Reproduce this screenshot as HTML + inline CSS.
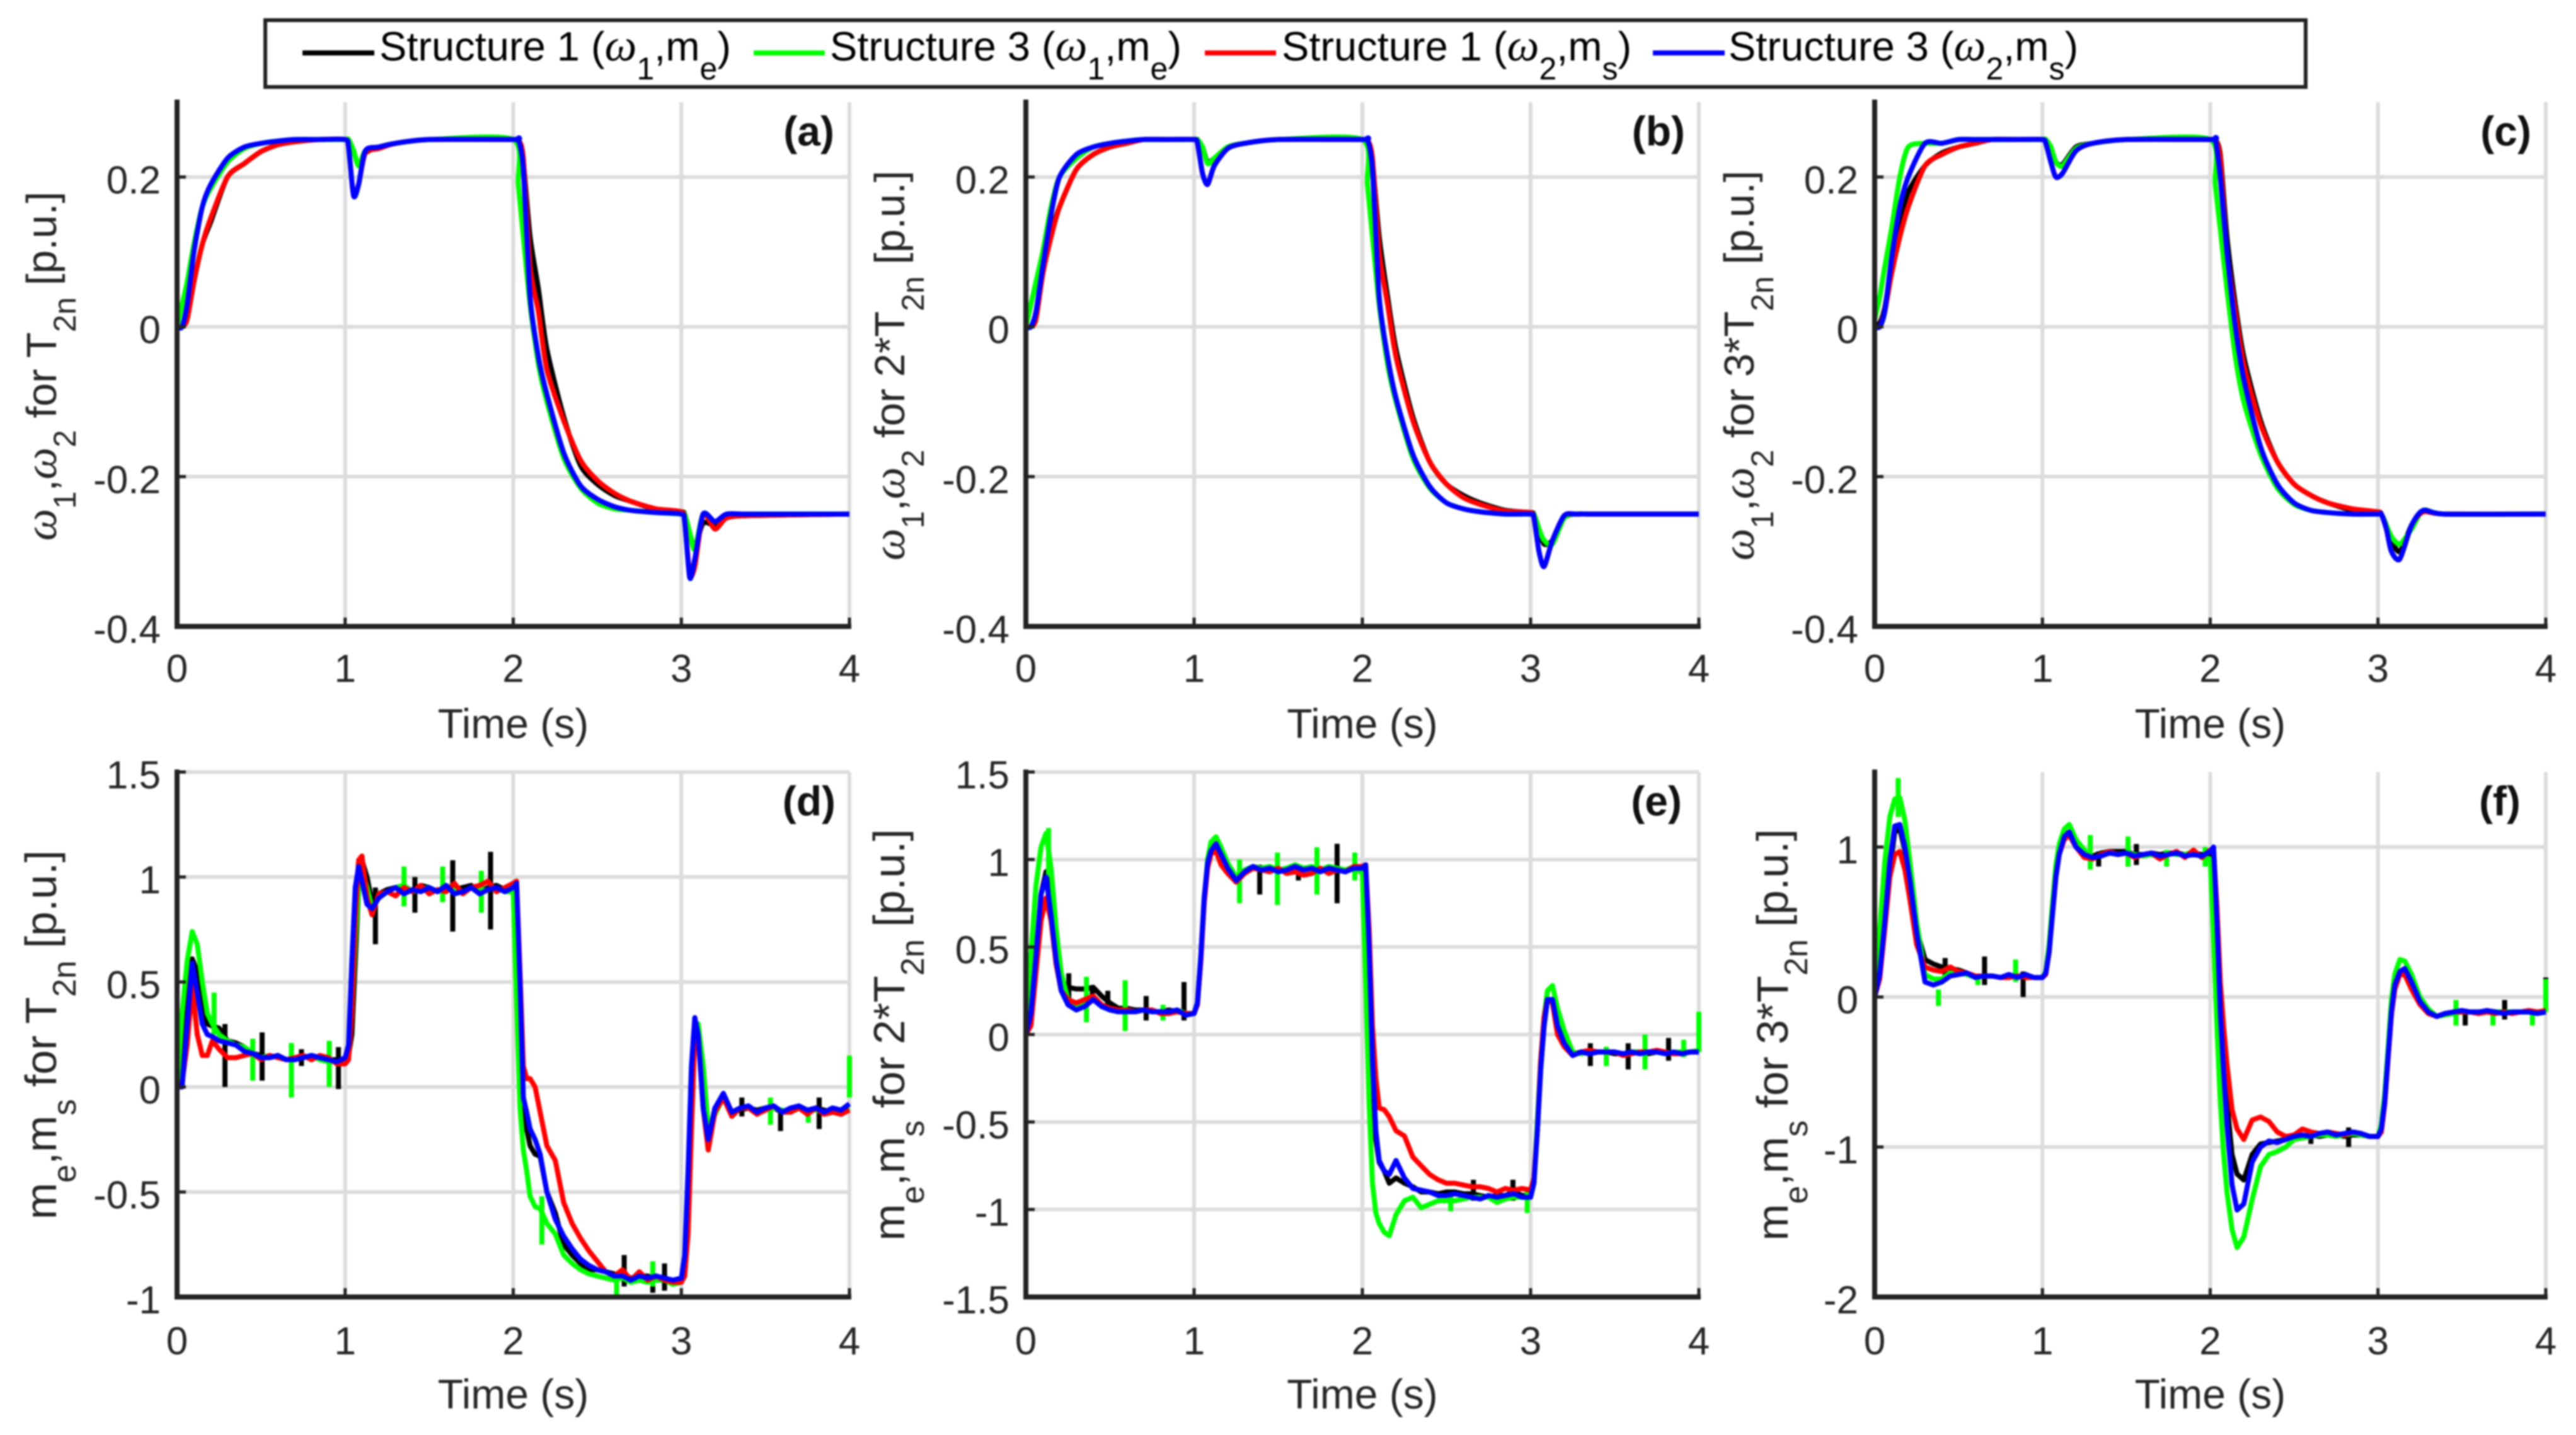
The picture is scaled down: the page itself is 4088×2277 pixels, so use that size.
<!DOCTYPE html>
<html lang="en">
<head>
<meta charset="utf-8">
<title>Speed and torque responses</title>
<style>
html,body{margin:0;padding:0;background:#fff}
svg{display:block;filter:blur(1.2px)}
text{font-family:"Liberation Sans",sans-serif}
.w{font-family:"Liberation Serif",serif;font-style:italic;font-size:72px}
</style>
</head>
<body>
<svg id="figure" xmlns="http://www.w3.org/2000/svg" width="4088" height="2277" viewBox="0 0 4088 2277">
<rect x="0" y="0" width="4088" height="2277" fill="#fff"/>
<g id="plots"></g>

<g>
<rect x="421" y="32" width="3238" height="106" fill="#fff" stroke="#222" stroke-width="6"/>
<line x1="480" x2="594" y1="84" y2="84" stroke="#000" stroke-width="8"/>
<text x="602" y="96" font-size="65" fill="#000">Structure 1 (<tspan class="w">ω</tspan><tspan dy="30" font-size="50">1</tspan><tspan dy="-30">,m</tspan><tspan dy="30" font-size="50">e</tspan><tspan dy="-30">)</tspan></text>
<line x1="1196" x2="1309" y1="84" y2="84" stroke="#00ff00" stroke-width="8"/>
<text x="1317" y="96" font-size="65" fill="#000">Structure 3 (<tspan class="w">ω</tspan><tspan dy="30" font-size="50">1</tspan><tspan dy="-30">,m</tspan><tspan dy="30" font-size="50">e</tspan><tspan dy="-30">)</tspan></text>
<line x1="1912" x2="2025" y1="84" y2="84" stroke="#ff0000" stroke-width="8"/>
<text x="2034" y="96" font-size="65" fill="#000">Structure 1 (<tspan class="w">ω</tspan><tspan dy="30" font-size="50">2</tspan><tspan dy="-30">,m</tspan><tspan dy="30" font-size="50">s</tspan><tspan dy="-30">)</tspan></text>
<line x1="2623" x2="2737" y1="84" y2="84" stroke="#0000ff" stroke-width="8"/>
<text x="2743" y="96" font-size="65" fill="#000">Structure 3 (<tspan class="w">ω</tspan><tspan dy="30" font-size="50">2</tspan><tspan dy="-30">,m</tspan><tspan dy="30" font-size="50">s</tspan><tspan dy="-30">)</tspan></text>
</g>

<g fill="#262626" font-size="67" text-anchor="middle">
<text transform="translate(89,581) rotate(-90)"><tspan class="w">ω</tspan><tspan dy="31" font-size="50">1</tspan><tspan dy="-31">,</tspan><tspan class="w">ω</tspan><tspan dy="31" font-size="50">2</tspan><tspan dy="-31"> for T</tspan><tspan dy="31" font-size="50">2n</tspan><tspan dy="-31">  [p.u.]</tspan></text>
<text transform="translate(1435,580) rotate(-90)"><tspan class="w">ω</tspan><tspan dy="31" font-size="50">1</tspan><tspan dy="-31">,</tspan><tspan class="w">ω</tspan><tspan dy="31" font-size="50">2</tspan><tspan dy="-31"> for 2*T</tspan><tspan dy="31" font-size="50">2n</tspan><tspan dy="-31">  [p.u.]</tspan></text>
<text transform="translate(2783,580) rotate(-90)"><tspan class="w">ω</tspan><tspan dy="31" font-size="50">1</tspan><tspan dy="-31">,</tspan><tspan class="w">ω</tspan><tspan dy="31" font-size="50">2</tspan><tspan dy="-31"> for 3*T</tspan><tspan dy="31" font-size="50">2n</tspan><tspan dy="-31">  [p.u.]</tspan></text>
<text transform="translate(89,1642) rotate(-90)" font-size="70">m<tspan dy="31" font-size="52">e</tspan><tspan dy="-31">,m</tspan><tspan dy="31" font-size="52">s</tspan><tspan dy="-31"> for T</tspan><tspan dy="31" font-size="52">2n</tspan><tspan dy="-31">  [p.u.]</tspan></text>
<text transform="translate(1435,1642) rotate(-90)" font-size="70">m<tspan dy="31" font-size="52">e</tspan><tspan dy="-31">,m</tspan><tspan dy="31" font-size="52">s</tspan><tspan dy="-31"> for 2*T</tspan><tspan dy="31" font-size="52">2n</tspan><tspan dy="-31">  [p.u.]</tspan></text>
<text transform="translate(2837,1642) rotate(-90)" font-size="70">m<tspan dy="31" font-size="52">e</tspan><tspan dy="-31">,m</tspan><tspan dy="31" font-size="52">s</tspan><tspan dy="-31"> for 3*T</tspan><tspan dy="31" font-size="52">2n</tspan><tspan dy="-31">  [p.u.]</tspan></text>
</g>
</svg>

<script>
// ---------- shared axes data ----------
const xTicks = [0, 1, 2, 3, 4];
const xTickLabels = ["0", "1", "2", "3", "4"];
const speedTicks = [-0.4, -0.2, 0, 0.2];
const speedTickLabels = ["-0.4", "-0.2", "0", "0.2"];
const torqueTicksD = [-1, -0.5, 0, 0.5, 1, 1.5];
const torqueTickLabelsD = ["-1", "-0.5", "0", "0.5", "1", "1.5"];
const torqueTicksE = [-1.5, -1, -0.5, 0, 0.5, 1, 1.5];
const torqueTickLabelsE = ["-1.5", "-1", "-0.5", "0", "0.5", "1", "1.5"];
const torqueTicksF = [-2, -1, 0, 1];
const torqueTickLabelsF = ["-2", "-1", "0", "1"];

// ---------- top row (speeds) ----------
const timeTop = [0,.03,.06,.1,.15, .2,.3,.4,.5,.6, .7,.85,1,1.02,1.05, 1.08,1.12,1.2,1.3,1.5, 2,2.03,2.06,2.1,2.15, 2.2,2.3,2.4,2.5,2.6, 2.7,2.85,3,3.02,3.05, 3.08,3.13,3.2,3.27,3.4, 4];

const aBlack = [0,0,.01,.06,.11, .14,.2,.218,.234,.243, .247,.25,.25,.25,.235, .215,.232,.24,.245,.25, .25,.25,.22,.12,.05, -.03,-.12,-.185,-.21,-.225, -.233,-.244,-.247,-.25,-.275, -.295,-.262,-.265,-.255,-.252, -.25];
const aGreen = [0,.03,.06,.11,.16, .185,.22,.238,.245,.248, .25,.25,.25,.25,.235, .215,.235,.24,.245,.25, .25,.19,.12,.03,-.05, -.1,-.175,-.215,-.235,-.243, -.245,-.248,-.25,-.25,-.275, -.297,-.25,-.26,-.252,-.25, -.25];
const aRed = [0,0,.01,.06,.11, .145,.2,.218,.234,.243, .247,.25,.25,.24,.175, .19,.232,.238,.245,.25, .25,.25,.225,.08,.02, -.057,-.125,-.178,-.205,-.222, -.233,-.243,-.247,-.26,-.33, -.32,-.25,-.27,-.255,-.252, -.25];
const aBlue = [0,0,.03,.1,.16, .19,.225,.24,.245,.248, .25,.25,.25,.24,.175, .19,.235,.24,.245,.25, .25,.25,.21,.04,-.04, -.09,-.168,-.212,-.23,-.24, -.245,-.248,-.25,-.26,-.335, -.31,-.25,-.26,-.25,-.25, -.25];

const bBlack = [0,0,.015,.07,.125, .16,.21,.23,.24,.245, .25,.25,.25,.25,.24, .22,.225,.24,.245,.25, .25,.25,.22,.12,.04, -.03,-.12,-.18,-.21,-.225, -.235,-.245,-.248,-.25,-.27, -.29,-.285,-.255,-.25,-.25, -.25];
const bGreen = [0,.03,.06,.1,.16, .2,.225,.24,.245,.248, .25,.25,.25,.25,.24, .218,.225,.24,.245,.25, .25,.19,.12,.03,-.05, -.1,-.175,-.215,-.235,-.243, -.247,-.25,-.25,-.25,-.27, -.285,-.29,-.255,-.25,-.25, -.25];
const bRed = [0,0,.01,.07,.12, .16,.21,.23,.24,.245, .25,.25,.25,.245,.205, .19,.215,.238,.245,.25, .25,.25,.225,.1,.03, -.04,-.125,-.18,-.21,-.228, -.237,-.246,-.248,-.255,-.3, -.32,-.285,-.252,-.25,-.25, -.25];
const bBlue = [0,0,.02,.08,.15, .2,.23,.24,.245,.248, .25,.25,.25,.245,.205, .19,.215,.238,.245,.25, .25,.25,.21,.04,-.04, -.095,-.17,-.213,-.235,-.243, -.247,-.25,-.25,-.255,-.3, -.32,-.285,-.252,-.25,-.25, -.25];

const cBlack = [0,.005,.025,.08,.14, .18,.215,.232,.24,.245, .25,.25,.25,.25,.24, .22,.217,.24,.245,.25, .25,.25,.23,.12,.03, -.04,-.125,-.18,-.21,-.225, -.235,-.245,-.248,-.25,-.265, -.285,-.3,-.265,-.247,-.25, -.25];
const cGreen = [.01,.04,.08,.13,.2, .24,.245,.245,.25,.25, .25,.25,.25,.25,.24, .22,.215,.238,.245,.25, .25,.19,.13,.05,-.04, -.1,-.17,-.215,-.237,-.245, -.248,-.25,-.25,-.25,-.265, -.28,-.29,-.27,-.245,-.25, -.25];
const cRed = [0,0,.02,.07,.12, .16,.215,.23,.24,.245, .25,.25,.25,.245,.22, .2,.205,.235,.245,.25, .25,.25,.225,.1,.02, -.05,-.13,-.18,-.21,-.225, -.235,-.243,-.247,-.25,-.27, -.3,-.31,-.265,-.247,-.25, -.25];
const cBlue = [0,0,.02,.09,.16, .2,.245,.245,.25,.25, .25,.25,.25,.245,.22, .2,.205,.235,.245,.25, .25,.25,.2,.1,0, -.07,-.16,-.21,-.235,-.245, -.248,-.25,-.25,-.25,-.27, -.3,-.31,-.265,-.245,-.25, -.25];

// ---------- bottom row (torques) ----------
const timeBottom = [0,.03,.06,.09,.12,.15,.18,.21,
 .25,.3,.35,.4,.45,.5,.55,.6,.65,.7,.75,.8,.85,.9,.95,
 1,1.02,1.04,1.06,1.08,1.1,1.13,1.16,1.2,
 1.25,1.3,1.35,1.4,1.45,1.5,1.55,1.6,1.65,1.7,1.75,1.8,1.85,1.9,1.95,
 2,2.02,2.04,2.06,2.08,2.1,2.13,2.16,2.2,
 2.25,2.3,2.35,2.4,2.45,2.5,2.55,2.6,2.65,2.7,2.75,2.8,2.85,2.9,2.95,
 3,3.02,3.04,3.06,3.08,3.1,3.13,3.16,3.2,
 3.25,3.3,3.35,3.4,3.45,3.5,3.55,3.6,3.65,3.7,3.75,3.8,3.85,3.9,3.95,4];

const dBlack = [0,.1,.4,.61,.55,.42,.3,.29,
 .28,.22,.21,.19,.16,.15,.14,.15,.13,.13,.14,.15,.14,.13,.13,
 .13,.15,.25,.6,.95,1.08,1,.88,.92,
 .94,.95,.96,.93,.96,.95,.93,.96,.94,.95,.96,.93,.95,.96,.94,
 .95,.85,.4,-.05,-.2,-.28,-.32,-.33,-.5,
 -.6,-.75,-.8,-.84,-.87,-.87,-.88,-.89,-.9,-.91,-.9,-.9,-.92,-.92,-.92,
 -.92,-.88,-.6,-.15,.25,.3,.05,-.25,-.1,
 -.05,-.12,-.11,-.1,-.11,-.1,-.1,-.12,-.11,-.1,-.12,-.1,-.11,-.12,-.11,-.1];
const dGreen = [0,.35,.6,.74,.68,.5,.35,.3,
 .25,.22,.2,.19,.16,.14,.15,.14,.13,.14,.14,.15,.13,.12,.12,
 .12,.16,.35,.7,.95,1.03,.95,.85,.9,
 .93,.95,.96,.93,.94,.95,.93,.96,.94,.93,.95,.93,.94,.95,.93,
 .93,.4,-.1,-.3,-.4,-.52,-.57,-.58,-.65,
 -.7,-.8,-.84,-.87,-.89,-.9,-.91,-.92,-.91,-.93,-.92,-.93,-.92,-.92,-.94,
 -.93,-.88,-.55,-.1,.25,.3,.1,-.2,-.13,
 -.05,-.12,-.1,-.1,-.12,-.1,-.1,-.11,-.12,-.1,-.11,-.11,-.12,-.1,-.11,-.1];
const dRed = [0,.02,.2,.48,.25,.15,.15,.22,
 .18,.14,.14,.15,.16,.13,.15,.14,.13,.14,.15,.13,.15,.14,.11,
 .11,.13,.35,.8,1.08,1.1,.9,.82,.92,
 .93,.91,.95,.93,.96,.92,.94,.93,.97,.92,.95,.96,.98,.93,.95,
 .97,.98,.55,.1,.04,.04,0,-.12,-.28,
 -.35,-.55,-.65,-.72,-.78,-.83,-.88,-.9,-.87,-.92,-.88,-.92,-.9,-.92,-.93,
 -.93,-.9,-.7,-.2,.25,.25,-.1,-.3,-.12,
 -.05,-.14,-.1,-.1,-.13,-.11,-.09,-.12,-.12,-.1,-.13,-.1,-.13,-.12,-.13,-.11];
const dBlue = [0,0,.3,.59,.45,.3,.25,.24,
 .22,.21,.2,.17,.16,.14,.14,.15,.13,.13,.14,.15,.14,.13,.12,
 .14,.2,.6,.95,1.05,.98,.87,.85,.9,
 .93,.95,.92,.94,.93,.95,.93,.96,.92,.93,.95,.92,.94,.95,.93,
 .95,.97,.5,-.05,-.12,-.2,-.25,-.32,-.5,
 -.63,-.71,-.77,-.82,-.85,-.87,-.88,-.9,-.9,-.92,-.9,-.91,-.9,-.91,-.92,
 -.91,-.8,-.4,.1,.33,.25,-.1,-.25,-.1,
 -.03,-.12,-.1,-.09,-.12,-.1,-.09,-.12,-.1,-.09,-.11,-.1,-.12,-.1,-.11,-.08];

const eBlack = [0,.12,.45,.8,.93,.7,.45,.3,
 .27,.26,.26,.27,.22,.18,.15,.15,.14,.14,.13,.13,.14,.13,.12,
 .12,.18,.45,.78,.98,1.05,1.08,1.02,.95,
 .89,.94,.96,.95,.96,.94,.95,.96,.95,.95,.94,.96,.95,.94,.95,
 .95,.92,.45,-.2,-.6,-.73,-.78,-.85,-.82,
 -.85,-.87,-.9,-.9,-.91,-.9,-.9,-.91,-.91,-.92,-.93,-.92,-.92,-.9,-.92,
 -.92,-.84,-.55,-.2,.05,.2,.2,.05,-.05,
 -.11,-.1,-.11,-.1,-.1,-.11,-.11,-.1,-.1,-.11,-.1,-.1,-.11,-.1,-.1,-.1];
const eGreen = [.1,.45,.85,1.07,1.15,.95,.6,.35,
 .2,.15,.17,.2,.16,.14,.13,.14,.13,.14,.13,.13,.13,.14,.12,
 .12,.17,.42,.75,1,1.1,1.13,1.07,.98,
 .9,.94,.96,.95,.96,.94,.95,.97,.95,.96,.94,.96,.95,.94,.96,
 .92,.3,-.4,-.85,-1.02,-1.08,-1.13,-1.15,-1.03,
 -.95,-.93,-.99,-.97,-.95,-.95,-.95,-.94,-.93,-.93,-.93,-.96,-.94,-.93,-.93,
 -.93,-.85,-.5,-.15,.1,.25,.28,.15,.02,
 -.1,-.11,-.1,-.1,-.1,-.1,-.11,-.1,-.1,-.1,-.1,-.11,-.1,-.1,-.1,-.09];
const eRed = [0,.05,.35,.65,.78,.65,.4,.25,
 .2,.18,.2,.22,.17,.15,.14,.14,.13,.14,.14,.12,.12,.13,.12,
 .12,.17,.42,.75,.95,1.03,1.05,.97,.92,
 .87,.92,.95,.94,.93,.95,.92,.93,.91,.92,.95,.92,.94,.93,.96,
 .96,.97,.6,.05,-.25,-.42,-.43,-.47,-.55,
 -.58,-.7,-.75,-.8,-.83,-.85,-.85,-.86,-.87,-.87,-.88,-.9,-.88,-.89,-.88,
 -.89,-.82,-.55,-.15,.1,.2,.18,0,-.07,
 -.12,-.1,-.09,-.1,-.1,-.1,-.12,-.11,-.1,-.1,-.09,-.1,-.11,-.11,-.1,-.1];
const eBlue = [0,.12,.45,.8,.9,.68,.42,.25,
 .17,.14,.16,.2,.16,.14,.13,.13,.13,.14,.13,.13,.13,.14,.11,
 .12,.18,.45,.78,.98,1.05,1.09,1.03,.95,
 .88,.93,.96,.94,.95,.93,.94,.96,.94,.95,.93,.95,.94,.93,.95,
 .95,.97,.5,-.15,-.55,-.72,-.78,-.8,-.72,
 -.82,-.88,-.89,-.9,-.92,-.92,-.91,-.92,-.93,-.94,-.92,-.93,-.92,-.91,-.93,
 -.93,-.85,-.55,-.2,.05,.2,.2,.05,-.05,
 -.12,-.1,-.11,-.1,-.1,-.1,-.11,-.1,-.11,-.1,-.1,-.11,-.1,-.11,-.1,-.1];

const fBlack = [0,.13,.48,.85,1.1,1.12,.98,.78,
 .45,.25,.22,.2,.19,.18,.16,.13,.14,.14,.13,.14,.14,.14,.13,
 .13,.16,.32,.58,.83,.97,1.08,1.1,1,
 .95,.94,.96,.97,.97,.97,.95,.95,.96,.95,.96,.96,.95,.96,.95,
 .95,.98,.55,0,-.35,-.7,-1.05,-1.18,-1.22,
 -1.05,-.98,-.97,-.96,-.95,-.93,-.93,-.92,-.93,-.92,-.92,-.93,-.92,-.92,-.93,
 -.93,-.88,-.7,-.4,-.1,.08,.17,.18,.1,
 -.03,-.1,-.13,-.11,-.1,-.1,-.1,-.1,-.1,-.1,-.1,-.1,-.1,-.1,-.1,-.1];
const fGreen = [.1,.45,.9,1.2,1.32,1.33,1.18,.9,
 .5,.15,.12,.12,.16,.16,.15,.13,.14,.14,.13,.14,.13,.14,.13,
 .13,.17,.35,.62,.88,1.02,1.12,1.15,1.05,
 .98,.92,.95,.96,.95,.96,.95,.94,.95,.93,.96,.95,.95,.97,.93,
 .92,.4,-.2,-.7,-1.05,-1.3,-1.55,-1.67,-1.6,
 -1.35,-1.13,-1.05,-1.03,-1,-.95,-.94,-.93,-.92,-.92,-.93,-.92,-.91,-.92,-.93,
 -.93,-.85,-.65,-.35,-.02,.15,.25,.24,.15,
 0,-.08,-.13,-.12,-.11,-.1,-.1,-.11,-.1,-.1,-.1,-.1,-.1,-.1,-.11,-.1];
const fRed = [0,.12,.45,.8,.95,.97,.85,.65,
 .35,.2,.18,.17,.2,.17,.16,.14,.14,.14,.13,.13,.14,.13,.13,
 .13,.15,.3,.55,.8,.95,1.05,1.08,1,
 .93,.92,.95,.97,.95,.96,.93,.95,.96,.92,.95,.97,.93,.98,.93,
 .98,.98,.6,.1,-.2,-.45,-.75,-.88,-.95,
 -.82,-.8,-.83,-.9,-.93,-.92,-.88,-.9,-.91,-.9,-.91,-.92,-.9,-.91,-.93,
 -.93,-.9,-.72,-.42,-.12,.05,.15,.15,.05,
 -.05,-.11,-.13,-.11,-.1,-.1,-.1,-.11,-.1,-.11,-.1,-.11,-.1,-.09,-.1,-.09];
const fBlue = [0,.15,.5,.9,1.14,1.15,1,.78,
 .43,.1,.08,.1,.14,.15,.16,.13,.14,.14,.13,.15,.13,.15,.13,
 .13,.16,.3,.55,.8,.95,1.07,1.1,1,
 .95,.93,.94,.96,.95,.96,.94,.95,.96,.94,.95,.96,.94,.95,.94,
 .97,1,.5,-.1,-.5,-.85,-1.25,-1.42,-1.38,
 -1.1,-1,-.96,-.97,-.95,-.93,-.92,-.93,-.91,-.9,-.92,-.91,-.9,-.91,-.93,
 -.93,-.88,-.7,-.4,-.1,.08,.17,.19,.1,
 -.03,-.1,-.13,-.11,-.1,-.09,-.1,-.1,-.09,-.1,-.11,-.1,-.1,-.1,-.11,-.1];

// ---------- measurement spikes: time, top value, bottom value ----------
const dBlackSpikeT = [.285,.506,.74,.96,1.18,1.415,1.64,1.865,2.66,2.83,2.9,3.36,3.59,3.82];
const dBlackSpikeHi = [.3,.26,.18,.19,.95,1,1.08,1.12,-.8,-.85,-.84,-.05,-.1,-.05];
const dBlackSpikeLo = [0,.03,.1,-.01,.68,.83,.74,.75,-.95,-.98,-.97,-.14,-.21,-.2];
const dGreenSpikeT = [.22,.45,.68,.905,1.35,1.58,1.81,2.17,2.615,2.83,3.53,3.755,4];
const dGreenSpikeHi = [.45,.23,.21,.22,1.05,1.05,1.03,-.52,-.9,-.83,-.05,-.1,.15];
const dGreenSpikeLo = [.25,.03,-.05,0,.86,.88,.83,-.75,-1,-.95,-.18,-.17,-.05];

const eBlackSpikeT = [.255,.395,.487,.715,.94,1.39,1.62,1.85,2.66,2.895,3.355,3.58,3.82];
const eBlackSpikeHi = [.35,.28,.25,.22,.3,.97,.97,1.09,-.83,-.83,-.05,-.05,-.02];
const eBlackSpikeLo = [.2,.18,.15,.08,.08,.8,.88,.75,-.95,-.95,-.18,-.2,-.15];
const eGreenSpikeT = [.135,.36,.59,.815,1.27,1.495,1.73,1.955,2.525,2.98,3.45,3.68,3.91,4];
const eGreenSpikeHi = [1.18,.33,.31,.17,1,1.04,1.07,1.04,-.92,-.87,-.07,0,-.03,.13];
const eGreenSpikeLo = [.9,.07,.02,.08,.75,.74,.8,.88,-1.01,-1.02,-.18,-.2,-.13,-.1];

const fBlackSpikeT = [.42,.655,.885,1.335,1.56,2.6,2.825,3.52,3.755,4];
const fBlackSpikeHi = [.26,.27,.17,.97,1.02,-.89,-.87,-.08,-.02,.13];
const fBlackSpikeLo = [.12,.08,0,.87,.88,-.98,-1,-.19,-.15,-.1];
const fGreenSpikeT = [.14,.38,.615,.84,1.285,1.51,1.74,1.97,3.465,3.685,3.92,4];
const fGreenSpikeHi = [1.46,.05,.15,.25,1.08,1.07,.98,1,-.02,-.08,-.08,.12];
const fGreenSpikeLo = [1.2,-.06,.08,.1,.85,.87,.87,.87,-.19,-.19,-.19,-.1];

// ---------- panel layout ----------
const panels = [
 {id:'a',x0:281,x1:1348,yTop:162,yBot:994,vMin:-.4,vMax:.3,ticks:speedTicks,labels:speedTickLabels,time:timeTop,black:aBlack,green:aGreen,red:aRed,blue:aBlue,tagX:1324,tagY:231,row:0},
 {id:'b',x0:1628,x1:2696,yTop:162,yBot:994,vMin:-.4,vMax:.3,ticks:speedTicks,labels:speedTickLabels,time:timeTop,black:bBlack,green:bGreen,red:bRed,blue:bBlue,tagX:2674,tagY:231,row:0},
 {id:'c',x0:2975,x1:4040,yTop:162,yBot:994,vMin:-.4,vMax:.3,ticks:speedTicks,labels:speedTickLabels,time:timeTop,black:cBlack,green:cGreen,red:cRed,blue:cBlue,tagX:4017,tagY:231,row:0},
 {id:'d',x0:281,x1:1348,yTop:1225,yBot:2058,vMin:-1,vMax:1.5,ticks:torqueTicksD,labels:torqueTickLabelsD,time:timeBottom,black:dBlack,green:dGreen,red:dRed,blue:dBlue,tagX:1326,tagY:1294,row:1,
  blackSpike:[dBlackSpikeT,dBlackSpikeHi,dBlackSpikeLo],greenSpike:[dGreenSpikeT,dGreenSpikeHi,dGreenSpikeLo]},
 {id:'e',x0:1628,x1:2696,yTop:1225,yBot:2058,vMin:-1.5,vMax:1.5,ticks:torqueTicksE,labels:torqueTickLabelsE,time:timeBottom,black:eBlack,green:eGreen,red:eRed,blue:eBlue,tagX:2669,tagY:1294,row:1,
  blackSpike:[eBlackSpikeT,eBlackSpikeHi,eBlackSpikeLo],greenSpike:[eGreenSpikeT,eGreenSpikeHi,eGreenSpikeLo]},
 {id:'f',x0:2975,x1:4040,yTop:1225,yBot:2058,vMin:-2,vMax:1.5,ticks:torqueTicksF,labels:torqueTickLabelsF,time:timeBottom,black:fBlack,green:fGreen,red:fRed,blue:fBlue,tagX:4000,tagY:1294,row:1,
  blackSpike:[fBlackSpikeT,fBlackSpikeHi,fBlackSpikeLo],greenSpike:[fGreenSpikeT,fGreenSpikeHi,fGreenSpikeLo]}
];

const NS = 'http://www.w3.org/2000/svg';
const plots = document.getElementById('plots');

function make(tag, parent, attrs) {
  const el = document.createElementNS(NS, tag);
  for (const k in attrs) el.setAttribute(k, attrs[k]);
  parent.appendChild(el);
  return el;
}

// Top-row speed curves are smooth in the reference: a Catmull-Rom pass through the data points.
function smoothPath(pts) {
  let d = 'M' + pts[0][0].toFixed(1) + ' ' + pts[0][1].toFixed(1);
  for (let i = 0; i < pts.length - 1; i++) {
    const p0 = pts[Math.max(0, i - 1)], p1 = pts[i], p2 = pts[i + 1], p3 = pts[Math.min(pts.length - 1, i + 2)];
    const c1x = p1[0] + (p2[0] - p0[0]) / 8, c1y = p1[1] + (p2[1] - p0[1]) / 8;
    const c2x = p2[0] - (p3[0] - p1[0]) / 8, c2y = p2[1] - (p3[1] - p1[1]) / 8;
    d += 'C' + c1x.toFixed(1) + ' ' + c1y.toFixed(1) + ' ' + c2x.toFixed(1) + ' ' + c2y.toFixed(1) + ' ' + p2[0].toFixed(1) + ' ' + p2[1].toFixed(1);
  }
  return d;
}

function drawSeries(group, p, sx, sy, values, color, label) {
  const pts = p.time.map((t, i) => [sx(t), sy(values[i])]);
  const d = p.row === 0 ? smoothPath(pts) : pts.map((q, i) => (i ? 'L' : 'M') + q[0].toFixed(1) + ' ' + q[1].toFixed(1)).join('');
  const el = make('path', group, {d: d, fill: 'none', stroke: color, 'stroke-width': 8, 'stroke-linejoin': 'round'});
  
  
}

function drawSpikes(group, sx, sy, spike, color, p, label) {
  if (!spike) return;
  spike[0].forEach((t, i) => {
    const el = make('line', group, {x1: sx(t), x2: sx(t), y1: sy(spike[1][i]), y2: sy(spike[2][i]), stroke: color, 'stroke-width': 8});
    
    
  });
}

panels.forEach(p => {
  const sx = t => p.x0 + (t - 0) / 4 * (p.x1 - p.x0);
  const sy = v => p.yBot - (v - p.vMin) / (p.vMax - p.vMin) * (p.yBot - p.yTop);

  const g = make('g', plots, {});
  
  

  // grid
  xTicks.slice(1).forEach(t => {
    const el = make('line', g, {x1: sx(t), x2: sx(t), y1: p.yTop, y2: p.yBot, stroke: '#dcdcdc', 'stroke-width': 6});
    
    
  });
  p.ticks.forEach(v => {
    const el = make('line', g, {x1: p.x0, x2: p.x1, y1: sy(v), y2: sy(v), stroke: '#dcdcdc', 'stroke-width': 6});
    
    
  });

  // series in legend order
  drawSeries(g, p, sx, sy, p.black, '#000000', 'structure1-speed1-torque-e');
  drawSpikes(g, sx, sy, p.blackSpike, '#000000', p, 'black');
  drawSeries(g, p, sx, sy, p.green, '#00ff00', 'structure3-speed1-torque-e');
  drawSpikes(g, sx, sy, p.greenSpike, '#00ff00', p, 'green');
  drawSeries(g, p, sx, sy, p.red, '#ff0000', 'structure1-speed2-torque-s');
  drawSeries(g, p, sx, sy, p.blue, '#0000ff', 'structure3-speed2-torque-s');

  // axes
  const yAxis = make('line', g, {x1: p.x0, x2: p.x0, y1: p.yTop - 4, y2: p.yBot + 4, stroke: '#222', 'stroke-width': 8});
  
  
  const xAxis = make('line', g, {x1: p.x0 - 4, x2: p.x1 + 3, y1: p.yBot, y2: p.yBot, stroke: '#222', 'stroke-width': 8});
  
  

  // ticks and labels
  xTicks.forEach((t, i) => {
    const tick = make('line', g, {x1: sx(t), x2: sx(t), y1: p.yBot, y2: p.yBot - 14, stroke: '#222', 'stroke-width': 5});
    
    
    const lab = make('text', g, {x: sx(t), y: p.yBot + (p.row ? 91 : 88), 'text-anchor': 'middle', 'font-size': 62, fill: '#262626'});
    lab.textContent = xTickLabels[i];
    
    
  });
  p.ticks.forEach((v, i) => {
    const tick = make('line', g, {x1: p.x0, x2: p.x0 + 14, y1: sy(v), y2: sy(v), stroke: '#222', 'stroke-width': 5});
    
    
    const lab = make('text', g, {x: p.x0 - 26, y: sy(v) + 26, 'text-anchor': 'end', 'font-size': 62, fill: '#262626'});
    lab.textContent = p.labels[i];
    
    
  });

  const title = make('text', g, {x: (p.x0 + p.x1) / 2, y: p.yBot + 177, 'text-anchor': 'middle', 'font-size': 66, fill: '#262626'});
  title.textContent = 'Time (s)';
  
  

  const tag = make('text', g, {x: p.tagX, y: p.tagY, 'text-anchor': 'end', 'font-size': 66, 'font-weight': 'bold', fill: '#111'});
  tag.textContent = '(' + p.id + ')';
  
  
});
</script>
</body>
</html>
